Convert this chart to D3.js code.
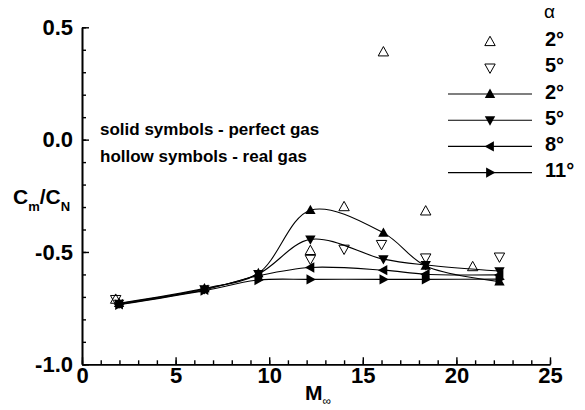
<!DOCTYPE html>
<html>
<head>
<meta charset="utf-8">
<script src="https://cdn.jsdelivr.net/npm/d3@7"></script>
<style>
  body { margin: 0; background: #fff; }
  svg text { font-family: Arial, "Liberation Sans", Helvetica, sans-serif; }
</style>
</head>
<body>
<div id="chart"></div>
<script>
const width = 585, height = 410;

// perfect gas (solid symbols), one series per alpha
const machPerfect = [1.98, 6.54, 9.42, 12.2, 16.1, 18.36, 22.3];
const perfect2  = [-0.728, -0.662, -0.595, -0.314, -0.415, -0.562, -0.632];
const perfect5  = [-0.730, -0.665, -0.598, -0.444, -0.532, -0.558, -0.585];
const perfect8  = [-0.733, -0.668, -0.606, -0.569, -0.581, -0.599, -0.602];
const perfect11 = [-0.735, -0.672, -0.625, -0.622, -0.622, -0.622, -0.621];

// real gas (hollow symbols)
const machReal2 = [1.8, 12.2, 14.0, 16.1, 18.36, 20.87];
const real2     = [-0.711, -0.494, -0.299, 0.39, -0.318, -0.566];
const machReal5 = [1.8, 12.2, 14.0, 16.0, 18.36, 22.3];
const real5     = [-0.711, -0.532, -0.487, -0.466, -0.526, -0.522];

const xTicks = [0, 5, 10, 15, 20, 25];
const yTicks = [-1.0, -0.5, 0.0, 0.5];
const yTickLabels = ["-1.0", "-0.5", "0.0", "0.5"];
const hollowLabels = ["2°", "5°"];
const solidLabels = ["2°", "5°", "8°", "11°"];

const x = d3.scaleLinear().domain([0, 25]).range([82, 550]);
const y = d3.scaleLinear().domain([-1, 0.5]).range([364.3, 27.3]);

const svg = d3.select("#chart").append("svg")
  .attr("width", width).attr("height", height);

// marker shapes, centred on 0,0
const tri = 5.2;
const shapes = {
  up:    `M0,${-tri * 1.05}L${tri},${tri * 0.75}L${-tri},${tri * 0.75}Z`,
  down:  `M0,${tri * 1.05}L${tri},${-tri * 0.75}L${-tri},${-tri * 0.75}Z`,
  left:  `M${-tri * 1.05},0L${tri * 0.75},${-tri}L${tri * 0.75},${tri}Z`,
  right: `M${tri * 1.05},0L${-tri * 0.75},${-tri}L${-tri * 0.75},${tri}Z`
};

// axes: ticks point inward
function styleAxis(g) {
  g.select(".domain").attr("stroke", "#000").attr("stroke-width", 1.6);
  g.selectAll(".tick line").attr("stroke", "#000").attr("stroke-width", 1.4);
  g.selectAll("text").attr("fill", "#000")
    .style("font-size", "22px").style("font-weight", "bold");
}

svg.append("g").attr("transform", "translate(0,364.3)")
  .call(d3.axisBottom(x).tickValues(d3.range(0, 26, 1)).tickSize(-4).tickSizeOuter(0).tickFormat(""))
  .call(styleAxis);
svg.append("g").attr("transform", "translate(0,364.3)")
  .call(d3.axisBottom(x).tickValues(xTicks).tickSize(-7).tickSizeOuter(0).tickPadding(3).tickFormat(d3.format("d")))
  .call(styleAxis);

svg.append("g").attr("transform", "translate(82,0)")
  .call(d3.axisLeft(y).tickValues(d3.range(-1, 0.51, 0.1)).tickSize(-4).tickSizeOuter(0).tickFormat(""))
  .call(styleAxis);
svg.append("g").attr("transform", "translate(82,0)")
  .call(d3.axisLeft(y).tickValues(yTicks).tickSize(-7).tickSizeOuter(0).tickPadding(9)
    .tickFormat((d, i) => yTickLabels[i]))
  .call(styleAxis);

// axis titles
const yTitle = svg.append("text").attr("x", 13).attr("y", 204)
  .style("font-size", "21px").style("font-weight", "bold");
yTitle.append("tspan").text("C");
yTitle.append("tspan").attr("dy", 7).style("font-size", "13px").text("m");
yTitle.append("tspan").attr("dy", -7).text("/C");
yTitle.append("tspan").attr("dy", 7).style("font-size", "13px").text("N");

const xTitle = svg.append("text").attr("x", 305).attr("y", 400)
  .style("font-size", "21px").style("font-weight", "bold");
xTitle.append("tspan").text("M");
xTitle.append("tspan").attr("dy", 5).style("font-size", "12px").style("font-weight", "normal").text("∞");

// notes
svg.append("text").attr("x", 100).attr("y", 135)
  .style("font-size", "17px").style("font-weight", "bold")
  .text("solid symbols - perfect gas");
svg.append("text").attr("x", 100).attr("y", 161.7)
  .style("font-size", "17px").style("font-weight", "bold")
  .text("hollow symbols - real gas");

// hollow symbols first
const realSeries = [
  { m: machReal2, v: real2, shape: "up" },
  { m: machReal5, v: real5, shape: "down" }
];
realSeries.forEach(s => {
  svg.append("g").selectAll("path")
    .data(s.v.map((v, i) => [s.m[i], v]))
    .join("path")
    .attr("d", shapes[s.shape])
    .attr("transform", d => `translate(${x(d[0])},${y(d[1])})`)
    .attr("fill", "none").attr("stroke", "#000").attr("stroke-width", 1);
});

// perfect gas curves + solid symbols
const perfectSeries = [
  { v: perfect2, shape: "up" },
  { v: perfect5, shape: "down" },
  { v: perfect8, shape: "left" },
  { v: perfect11, shape: "right" }
];
const line = d3.line()
  .x(d => x(d[0])).y(d => y(d[1]))
  .curve(d3.curveCatmullRom.alpha(0.5));

perfectSeries.forEach(s => {
  const pts = s.v.map((v, i) => [machPerfect[i], v]);
  svg.append("path").datum(pts)
    .attr("d", line)
    .attr("fill", "none").attr("stroke", "#000").attr("stroke-width", 1.1);
});
perfectSeries.forEach(s => {
  svg.append("g").selectAll("path")
    .data(s.v.map((v, i) => [machPerfect[i], v]))
    .join("path")
    .attr("d", shapes[s.shape])
    .attr("transform", d => `translate(${x(d[0])},${y(d[1])})`)
    .attr("fill", "#000");
});

// legend
const legend = svg.append("g");
legend.append("text").attr("x", 544).attr("y", 18)
  .style("font-size", "19px").text("α");

const legendRow = 26.2;
hollowLabels.forEach((lab, i) => {
  const ly = 41.7 + i * legendRow;
  legend.append("path").attr("d", i === 0 ? shapes.up : shapes.down)
    .attr("transform", `translate(490,${ly})`)
    .attr("fill", "none").attr("stroke", "#000").attr("stroke-width", 1);
  legend.append("text").attr("x", 545).attr("y", ly + 4.5)
    .style("font-size", "20px").style("font-weight", "bold").text(lab);
});
solidLabels.forEach((lab, i) => {
  const ly = 94 + i * legendRow;
  legend.append("line").attr("x1", 448).attr("x2", 532).attr("y1", ly).attr("y2", ly)
    .attr("stroke", "#000").attr("stroke-width", 1.1);
  legend.append("path").attr("d", shapes[perfectSeries[i].shape])
    .attr("transform", `translate(490,${ly})`)
    .attr("fill", "#000");
  legend.append("text").attr("x", 545).attr("y", ly + 4.5)
    .style("font-size", "20px").style("font-weight", "bold").text(lab);
});
</script>
</body>
</html>
